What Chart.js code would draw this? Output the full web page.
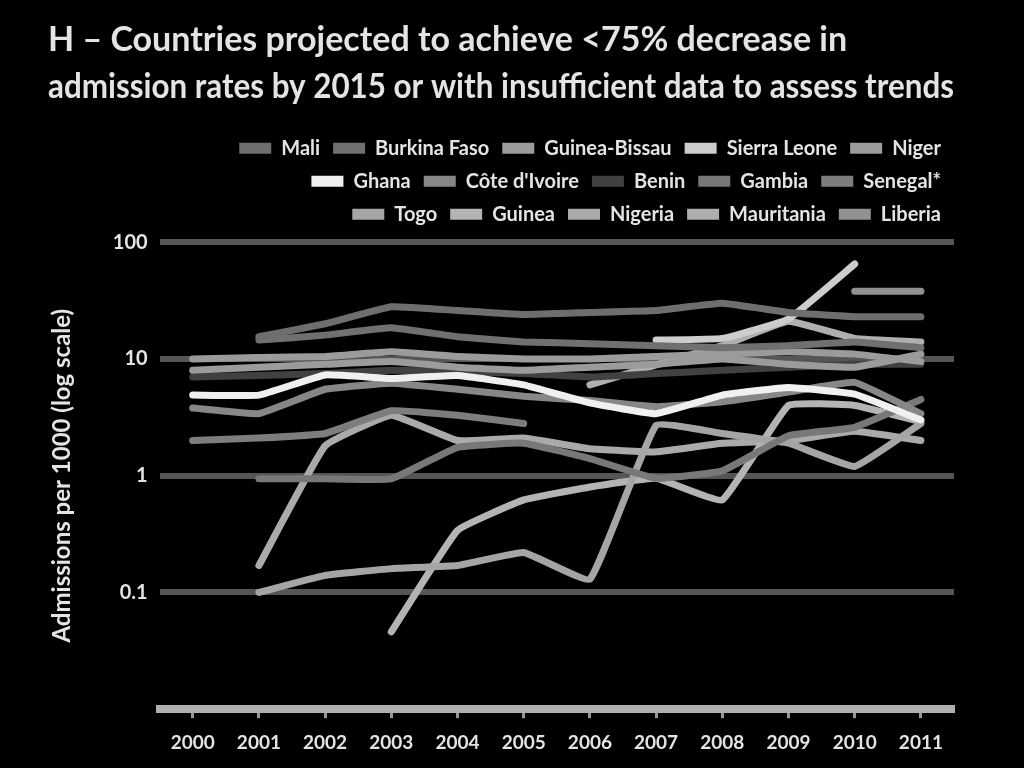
<!DOCTYPE html>
<html>
<head>
<meta charset="utf-8">
<script src="https://cdn.jsdelivr.net/npm/chart.js@4"></script>
<style>
  html, body { margin: 0; padding: 0; background: #000; }
  #wrap { width: 1024px; height: 768px; }
</style>
</head>
<body>
<div id="wrap"><canvas id="c" width="1024" height="768"></canvas></div>
<script>
const years = ['2000','2001','2002','2003','2004','2005','2006','2007','2008','2009','2010','2011'];
const yTicks = [0.01, 0.1, 1, 10, 100];
const titleLines = ['H \u2013 Countries projected to achieve <75% decrease in',
                    'admission rates by 2015 or with insufficient data to assess trends'];
const yTitle = 'Admissions per 1000 (log scale)';

const mali        = [null, 15.5, 20, 28, 26, 24, 25, 26, 30, 25, 23, 23];
const burkinaFaso = [null, 14.5, 16, 18.5, 15.5, 14, 13.5, 13, 12.5, 13, 14, 12.5];
const guineaBissau= [10, 10.3, 10.5, 11.5, 10.5, 10, 10, 10.5, 11, 11.5, 11, 9.5];
const sierraLeone = [null, null, null, null, null, null, null, 14.5, 15, 22, 65, null];
const niger       = [8, 8.5, 9, 9.5, 8.5, 8, 8.5, 9, 10, 9, 8.5, 11];
const ghana       = [4.9, 4.9, 7.3, 6.8, 7.2, 6.0, 4.2, 3.4, 4.9, 5.7, 5.0, 3.0];
const coteDIvoire = [3.8, 3.4, 5.5, 6.2, 5.5, 4.8, 4.4, 3.9, 4.3, 5.2, 6.3, 3.4];
const benin       = [7.0, 7.2, 7.5, 8.0, 7.8, 7.5, 7.0, 7.5, 8, 8.5, 9, 9];
const gambia      = [null, 0.94, 0.94, 0.94, 1.75, 1.9, 1.4, 0.95, 1.1, 2.2, 2.6, 4.5];
const senegal     = [2.0, 2.1, 2.3, 3.6, 3.3, 2.8, null, null, null, null, null, null];
const togo        = [null, 0.1, 0.14, 0.16, 0.17, 0.22, 0.13, 2.7, 2.3, 1.9, 1.2, 2.8];
const guinea      = [null, null, null, 0.046, 0.34, 0.62, 0.8, 0.95, 0.62, 4.0, 4.0, 2.9];
const nigeria     = [null, 0.17, 1.8, 3.3, 2.0, 2.1, 1.7, 1.6, 1.9, 2.0, 2.4, 2.0];
const mauritania  = [null, null, null, null, null, null, 6.0, 8.9, 13, 21, 15, 14];
const liberia     = [null, null, null, null, null, null, null, null, null, null, 38, 38];

const seriesNames = ['Mali','Burkina Faso','Guinea-Bissau','Sierra Leone','Niger',
  'Ghana',"C\u00f4te d'Ivoire",'Benin','Gambia','Senegal*',
  'Togo','Guinea','Nigeria','Mauritania','Liberia'];
const seriesData = [mali, burkinaFaso, guineaBissau, sierraLeone, niger,
  ghana, coteDIvoire, benin, gambia, senegal,
  togo, guinea, nigeria, mauritania, liberia];
const seriesColors = ['rgb(110,110,110)','rgb(112,112,112)','rgb(155,155,155)','rgb(205,205,205)','rgb(155,155,155)',
  'rgb(240,240,240)','rgb(135,135,135)','rgb(65,65,65)','rgb(120,120,120)','rgb(125,125,125)',
  'rgb(165,165,165)','rgb(180,180,180)','rgb(170,170,170)','rgb(175,175,175)','rgb(145,145,145)'];

const FONT = 'Lato, "Open Sans", sans-serif';
const TXT = 'rgb(228,228,228)';
const PER_ROW = 5;
const LEGEND_EXTRA = 8;

// Wrap the legend after a fixed number of items per row, as in the reference.
const legendWrap = {
  id: 'legendWrap',
  afterInit(chart) {
    const lg = chart.legend;
    if (!lg) return;
    const orig = lg.fit;
    lg.fit = function () {
      const full = this.maxWidth;
      const lo = this.options.labels;
      const font = Chart.helpers.toFont(lo.font);
      const ctx = this.ctx;
      ctx.save();
      ctx.font = font.string;
      const pad = lo.padding;
      const bw = lo.boxWidth;
      const ws = this.legendItems.map(it => bw + font.size / 2 + ctx.measureText(it.text).width);
      ctx.restore();
      let need = 0;
      for (let s = 0; s < ws.length; s += PER_ROW) {
        let line = 0;
        const row = ws.slice(s, s + PER_ROW);
        row.forEach((w, j) => {
          if (j > 0) need = Math.max(need, line + w + 2 * pad);
          line += w + pad;
        });
      }
      this.maxWidth = Math.min(full, Math.ceil(need) + 1);
      orig.call(this);
      this.maxWidth = full;
      this.width = full;
      this.height += LEGEND_EXTRA;
    };
  }
};

new Chart(document.getElementById('c'), {
  type: 'line',
  data: {
    labels: years,
    datasets: seriesNames.map((n, i) => ({
      label: n,
      data: seriesData[i],
      borderColor: seriesColors[i],
      backgroundColor: seriesColors[i],
      borderWidth: 7,
      pointRadius: 0,
      tension: 0.1,
      borderCapStyle: 'round',
      borderJoinStyle: 'round',
      spanGaps: false
    }))
  },
  plugins: [legendWrap],
  options: {
    responsive: false,
    animation: false,
    layout: { padding: { left: 48, right: 70, top: 12, bottom: 1 } },
    plugins: {
      title: {
        display: true,
        text: titleLines,
        align: 'start',
        color: TXT,
        font: { family: FONT, size: 34, weight: 'bold', lineHeight: 1.4 },
        padding: { top: 4, bottom: 14 }
      },
      legend: {
        display: true,
        position: 'top',
        align: 'end',
        labels: {
          color: TXT,
          font: { family: FONT, size: 20, weight: 'bold' },
          boxWidth: 32,
          boxHeight: 11,
          padding: 13,
          generateLabels: (chart) => Chart.defaults.plugins.legend.labels.generateLabels(chart)
            .map(it => Object.assign(it, { lineWidth: 0 }))
        }
      },
      tooltip: { enabled: false }
    },
    scales: {
      x: {
        type: 'category',
        offset: true,
        grid: { display: true, drawOnChartArea: false, drawTicks: true, tickLength: 9,
                tickColor: 'rgb(150,150,150)', tickWidth: 3, offset: false },
        border: { display: true, color: 'rgb(175,175,175)', width: 8 },
        ticks: { color: TXT, font: { family: FONT, size: 19, weight: 'bold' }, padding: 13, maxRotation: 0 }
      },
      y: {
        type: 'logarithmic',
        min: 0.01,
        max: 100,
        afterBuildTicks: (axis) => { axis.ticks = yTicks.map(v => ({ value: v })); },
        grid: { color: 'rgb(85,85,85)', lineWidth: 6, drawTicks: false },
        border: { display: false },
        ticks: {
          color: TXT,
          font: { family: FONT, size: 20, weight: 'bold' },
          padding: 12,
          callback: (v) => (v === 0.01 ? '' : String(v))
        },
        title: {
          display: true,
          text: yTitle,
          color: TXT,
          font: { family: FONT, size: 24, weight: 'bold' },
          padding: { top: 0, bottom: 24 }
        }
      }
    }
  }
});
</script>
</body>
</html>
